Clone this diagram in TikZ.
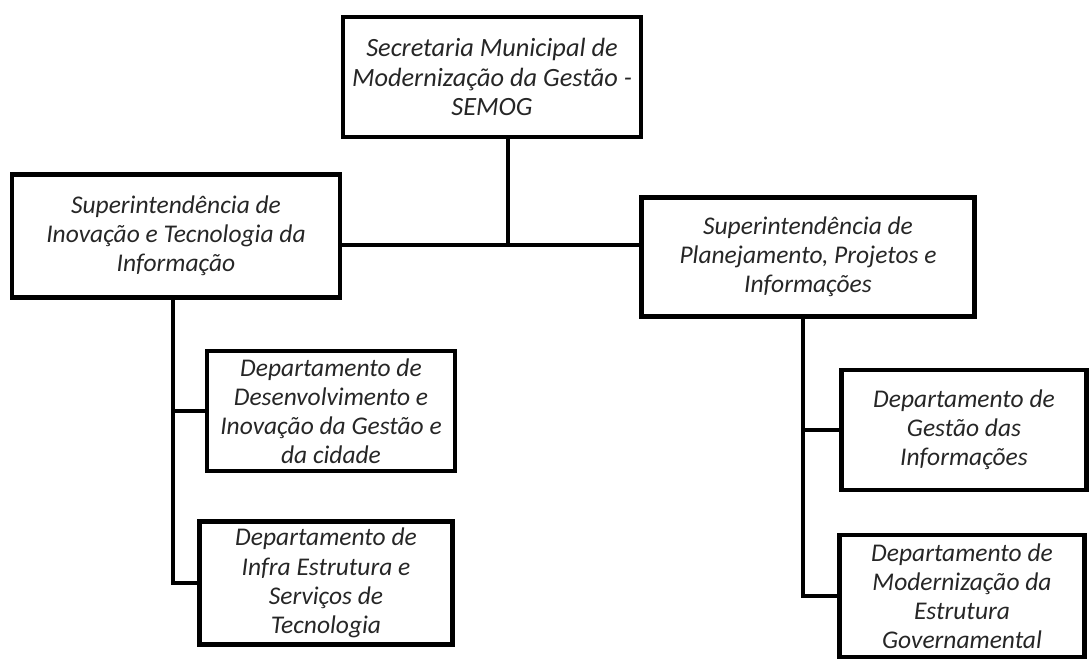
\documentclass[tikz,border=0pt]{standalone}
\usepackage{fontspec}
\setmainfont{Carlito}

\begin{document}
\begin{tikzpicture}[x=0.02cm, y=-0.02cm,
    box/.style={draw, line width=2.4pt, align=center, inner sep=0pt,
        font=\fontsize{14.5}{16.6}\selectfont\itshape, text=black!85},
    link/.style={line width=2.4pt}]

    % constants
    \useasboundingbox (0,0) rectangle (1089,659);
    \coordinate (hub) at (508,245);
    \coordinate (tl) at (173,0);
    \coordinate (tr) at (803,0);

    % Secretaria
    \node [box, minimum width=5.96cm, minimum height=2.4cm,
        font=\fontsize{15}{16.6}\selectfont\itshape] (semog) at (492,77)
        {Secretaria Municipal de\\ Modernização da Gestão -\\ SEMOG};

    % Superintendencias
    \node [box, minimum width=6.56cm, minimum height=2.46cm] (sitl) at (176,236)
        {Superintendência de\\ Inovação e Tecnologia da\\ Informação};
    \node [box, minimum width=6.66cm, minimum height=2.38cm] (sppi) at (808,257)
        {Superintendência de\\ Planejamento, Projetos e\\ Informações};

    % Departamentos
    \node [box, minimum width=4.96cm, minimum height=2.4cm] (ddig) at (331,411)
        {Departamento de\\ Desenvolvimento e\\ Inovação da Gestão e\\ da cidade};
    \node [box, minimum width=5.06cm, minimum height=2.46cm] (dies) at (326,583)
        {Departamento de\\ Infra Estrutura e\\ Serviços de\\ Tecnologia};
    \node [box, minimum width=4.9cm, minimum height=2.4cm] (dgi) at (964,430)
        {Departamento de\\ Gestão das\\ Informações};
    \node [box, minimum width=4.9cm, minimum height=2.44cm] (dmeg) at (962,596)
        {Departamento de\\ Modernização da\\ Estrutura\\ Governamental};

    % links
    \draw[link] (semog.south -| hub) -- (hub);
    \draw[link] (sitl.east |- hub) -- (sppi.west |- hub);
    \draw[link] (sitl.south -| tl) -- (dies.west -| tl) -- (dies.west);
    \draw[link] (ddig.west -| tl) -- (ddig.west);
    \draw[link] (sppi.south -| tr) -- (dmeg.west -| tr) -- (dmeg.west);
    \draw[link] (dgi.west -| tr) -- (dgi.west);

\end{tikzpicture}
\end{document}
